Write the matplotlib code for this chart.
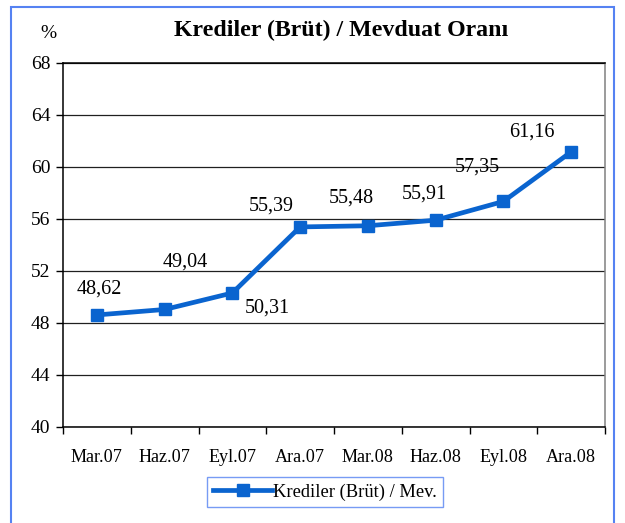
import matplotlib
matplotlib.use("Agg")
import matplotlib.pyplot as plt
from matplotlib.patches import Rectangle

plt.rcParams['font.family'] = ['Liberation Serif', 'DejaVu Serif']

categories = ["Mar.07", "Haz.07", "Eyl.07", "Ara.07", "Mar.08", "Haz.08", "Eyl.08", "Ara.08"]
values = [48.62, 49.04, 50.31, 55.39, 55.48, 55.91, 57.35, 61.16]
value_labels = ["48,62", "49,04", "50,31", "55,39", "55,48", "55,91", "57,35", "61,16"]
y_ticks = [40, 44, 48, 52, 56, 60, 64, 68]
series_name = "Krediler (Brüt) / Mev."
title = "Krediler (Brüt) / Mevduat Oranı"

# label offsets in points (dx, dy) relative to each marker
label_offsets = [(2, 19), (15, 34), (25, -11), (-21, 15), (-12, 20), (-8, 19), (-19, 24.5), (-28, 14.5)]

W, H = 625, 523
fig = plt.figure(figsize=(W / 100, H / 100), dpi=100)

# outer frame
fig.patches.append(Rectangle((11 / W, -0.05), (614 - 11) / W, 1.05 - 7 / H,
                             transform=fig.transFigure, fill=False,
                             edgecolor="#5582f2", linewidth=1.5))

ax = fig.add_axes([63 / W, 1 - 427 / H, (605 - 63) / W, (427 - 63) / H])
x = list(range(len(categories)))
line_color = "#0a64cf"
ax.plot(x, values, color=line_color, linewidth=3.4, marker="s", markersize=9,
        markerfacecolor=line_color, markeredgecolor=line_color, label=series_name,
        zorder=3, clip_on=False)

for xi, v, lab, (dx, dy) in zip(x, values, value_labels, label_offsets):
    ax.annotate(lab, (xi, v), xytext=(dx, dy), textcoords="offset points",
                ha="center", va="center", fontsize=14.5, color="black")

ax.set_xlim(-0.5, len(categories) - 0.5)
ax.set_ylim(40, 68)
ax.set_yticks(y_ticks)
ax.set_yticklabels([str(t) for t in y_ticks], fontsize=14)
ax.set_xticks(x)
ax.set_xticklabels(categories, fontsize=13.1)
ax.set_xticks([i - 0.5 for i in range(len(categories) + 1)], minor=True)
ax.tick_params(axis="x", which="major", length=0, pad=15.5)
ax.tick_params(axis="x", which="minor", length=5, width=1, color="black")
ax.tick_params(axis="y", length=5, width=1, pad=4)
ax.grid(axis="y", color="#202020", linewidth=0.9)
ax.set_axisbelow(True)
for side in ["left", "bottom", "top"]:
    ax.spines[side].set_color("black")
    ax.spines[side].set_linewidth(1.1)
ax.spines["right"].set_color("#808080")
ax.spines["right"].set_linewidth(1.1)

fig.text(341 / W, 1 - 30 / H, title, ha="center", va="center",
         fontsize=17.2, fontweight="bold")
fig.text(48 / W, 1 - 33 / H, "%", ha="center", va="center", fontsize=14)

leg = fig.legend(loc="center", bbox_to_anchor=(325 / W, 1 - 492 / H), fontsize=13.3,
                 frameon=True, fancybox=False, handlelength=3.2, borderpad=0.35,
                 handletextpad=0.05, borderaxespad=0)
leg.get_frame().set_edgecolor("#5582f2")
leg.get_frame().set_linewidth(1.0)

fig.savefig("out.png", dpi=100)
